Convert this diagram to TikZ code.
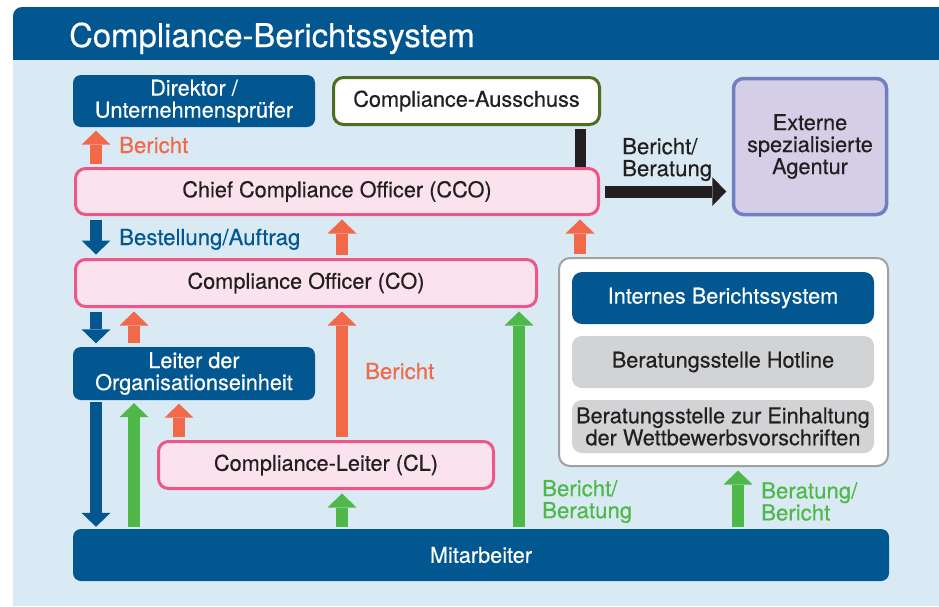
\documentclass[tikz,border=0pt]{standalone}
\usepackage{fontspec}
\setmainfont{TeX Gyre Heros}
\newfontfamily\medfont{TeX Gyre Heros}[FakeBold=0.35]
\usetikzlibrary{arrows.meta}
\definecolor{dblue}{RGB}{2,87,145}
\definecolor{bgblue}{RGB}{217,234,244}
\definecolor{orng}{RGB}{241,105,72}
\definecolor{grn}{RGB}{78,184,72}
\definecolor{pinkb}{RGB}{238,86,135}
\definecolor{pinkf}{RGB}{251,227,238}
\definecolor{olive}{RGB}{80,108,32}
\definecolor{purb}{RGB}{114,126,191}
\definecolor{purf}{RGB}{212,206,230}
\definecolor{grayf}{RGB}{210,211,213}
\definecolor{grayb}{RGB}{160,161,163}
\definecolor{txt}{RGB}{35,31,32}
\begin{document}
\begin{tikzpicture}[x=1pt,y=-1pt,
  font=\medfont\fontsize{21.7}{22}\selectfont,
  box/.style={rounded corners=8pt, inner sep=0pt, align=center, text=txt},
  bluebox/.style={box, fill=dblue, text=white},
  pinkbox/.style={box, fill=pinkf, draw=pinkb, line width=3pt, rounded corners=10pt},
  graybox/.style={box, fill=grayf, rounded corners=10pt},
  lbl/.style={inner sep=0pt, align=left, font=\medfont\fontsize{22.2}{22}\selectfont},
  blk/.style={line width=12pt, -{Triangle[width=29pt,length=14pt,line width=0pt]}, shorten <=3.5pt, shorten >=3.5pt},
]
\useasboundingbox (0,0) rectangle (939,606);
\begin{scope}
  \clip (0,0) rectangle (939,606);
  \fill[white] (0,0) rectangle (939,606);
  \fill[dblue, rounded corners=9pt] (13,7) rectangle (960,80);
  \fill[bgblue] (13,60) rectangle (939,606);
\end{scope}
\node[anchor=base west, inner sep=0pt, text=white, font=\medfont\fontsize{32.8}{36}\selectfont] (title) at (69,47) {Compliance-Berichtssystem};

% boxes
\node[bluebox, minimum width=242pt, minimum height=52pt] (dir) at (194,101) {Direktor /\\Unternehmensprüfer};
\node[box, fill=white, draw=olive, line width=3pt, rounded corners=10pt, minimum width=266pt, minimum height=47pt] (aus) at (466.5,101) {Compliance-Ausschuss};
\node[box, fill=purf, draw=purb, line width=3.5pt, rounded corners=10pt, minimum width=153pt, minimum height=136pt] (ext) at (810,146.5) {Externe\\spezialisierte\\Agentur};
\node[pinkbox, minimum width=523pt, minimum height=46pt] (cco) at (337,191.5) {Chief Compliance Officer (CCO)};
\node[pinkbox, minimum width=461pt, minimum height=47pt] (co) at (306,283) {Compliance Officer (CO)};
\node[bluebox, minimum width=242pt, minimum height=53pt] (leit) at (194,373.5) {Leiter der\\Organisationseinheit};
\node[pinkbox, minimum width=335pt, minimum height=47pt] (cl) at (326,465) {Compliance-Leiter (CL)};
\node[bluebox, minimum width=816pt, minimum height=52pt] (mit) at (481,555) {Mitarbeiter};
\node[box, fill=white, draw=grayb, line width=2pt, rounded corners=11pt, minimum width=329pt, minimum height=208pt] (cont) at (723.5,362) {};
\node[bluebox, rounded corners=10pt, minimum width=302pt, minimum height=52pt] (int) at (723,298) {Internes Berichtssystem};
\node[graybox, minimum width=302pt, minimum height=52pt] (hot) at (723,362) {Beratungsstelle Hotline};
\node[graybox, minimum width=302pt, minimum height=53pt] (ein) at (723,426.5) {Beratungsstelle zur Einhaltung\\der Wettbewerbsvorschriften};

% column coordinates
\coordinate (ca) at (96,0);
\coordinate (cb) at (134,0);
\coordinate (cc) at (179,0);
\coordinate (cd) at (342,0);
\coordinate (ce) at (519,0);
\coordinate (cf) at (580,0);
\coordinate (cg) at (738,0);

% connectors
\draw[blk, orng] (cco.north -| ca) -- (dir.south -| ca);
\draw[blk, dblue] (cco.south -| ca) -- (co.north -| ca);
\draw[blk, orng] (co.north -| cd) -- (cco.south -| cd);
\draw[blk, orng] (cont.north -| cf) -- (cco.south -| cf);
\draw[line width=11pt, txt, shorten <=3pt] (aus.south -| cf) -- (cco.north -| cf);
\draw[blk, txt, shorten <=4.5pt, shorten >=5.5pt] (cco.east) -- (cco.east -| ext.west);
\draw[blk, dblue] (co.south -| ca) -- (leit.north -| ca);
\draw[blk, orng] (leit.north -| cb) -- (co.south -| cb);
\draw[blk, orng] (cl.north -| cd) -- (co.south -| cd);
\draw[blk, dblue, shorten <=2pt, shorten >=2pt] (leit.south -| ca) -- (mit.north -| ca);
\draw[blk, grn, shorten <=2pt, shorten >=3pt] (mit.north -| cb) -- (leit.south -| cb);
\draw[blk, orng] (cl.north -| cc) -- (leit.south -| cc);
\draw[blk, grn, shorten <=2pt] (mit.north -| cd) -- (cl.south -| cd);
\draw[blk, grn, shorten <=2pt] (mit.north -| ce) -- (co.south -| ce);
\draw[blk, grn, shorten <=2pt] (mit.north -| cg) -- (cont.south -| cg);

% labels
\node[lbl, anchor=base west, text=orng] (l1) at (119,153) {Bericht};
\node[lbl, anchor=base west, text=dblue] (l2) at (119,245) {Bestellung/Auftrag};
\node[lbl, anchor=base west, text=orng] (l3) at (365,379) {Bericht};
\node[lbl, anchor=west, text=txt] (l4) at (622,159.5) {Bericht/\\Beratung};
\node[lbl, anchor=west, text=grn] (l5) at (542,501.5) {Bericht/\\Beratung};
\node[lbl, anchor=west, text=grn] (l6) at (761,501.5) {Beratung/\\Bericht};
\end{tikzpicture}
\end{document}
